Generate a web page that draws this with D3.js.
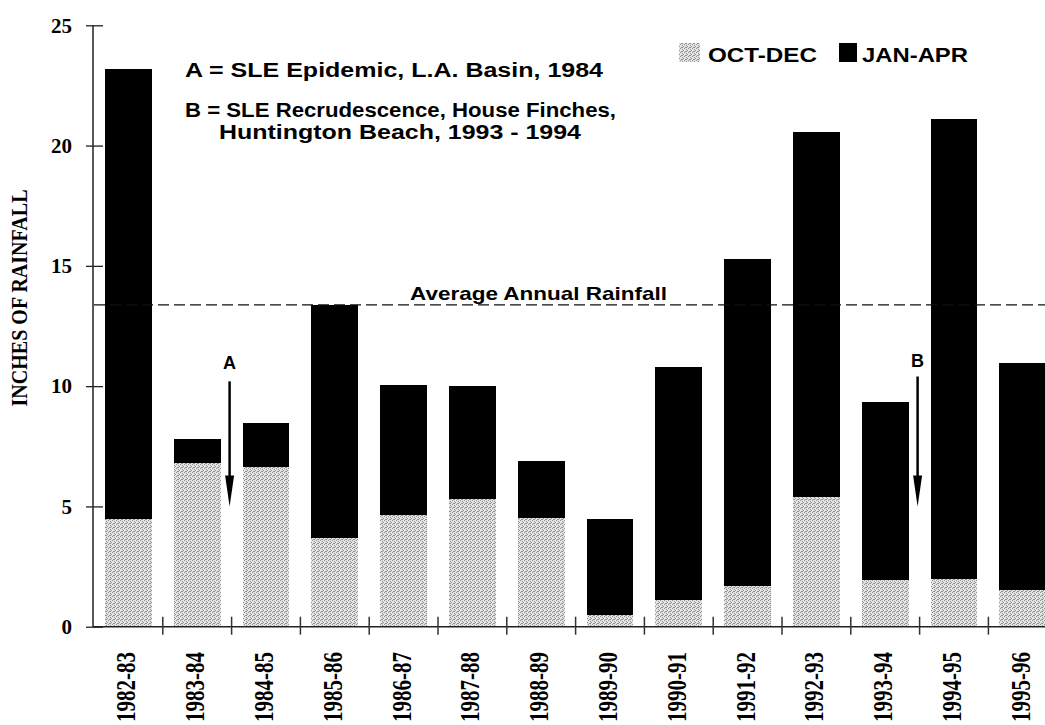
<!DOCTYPE html>
<html>
<head>
<meta charset="utf-8">
<script src="https://cdn.jsdelivr.net/npm/d3@7"></script>
<style>
  body { margin: 0; background: #fff; }
  svg { display: block; }
</style>
</head>
<body>
<div id="chart"></div>
<script>
// values (inches)
const seasons = ['1982-83', '1983-84', '1984-85', '1985-86', '1986-87', '1987-88', '1988-89',
    '1989-90', '1990-91', '1991-92', '1992-93', '1993-94', '1994-95', '1995-96'];
const octDec = [4.47, 6.82, 6.65, 3.68, 4.64, 5.31, 4.51, 0.49, 1.11, 1.69, 5.38, 1.94, 1.98, 1.53];
const janApr = [18.72, 0.97, 1.83, 9.70, 5.41, 4.71, 2.38, 3.98, 9.70, 13.59, 15.20, 7.40, 19.12, 9.43];
const averageRainfall = 13.38;
const yTicks = [0, 5, 10, 15, 20, 25];
const seriesNames = ['OCT-DEC', 'JAN-APR'];
// arrows: placed at the boundary just after the given season
const markers = [
    { label: 'A', after: '1983-84', labelAt: 10.7, top: 10.2, tip: 5 },
    { label: 'B', after: '1993-94', labelAt: 10.8, top: 10.4, tip: 5 }
];
const notes = [
    { text: 'A = SLE Epidemic, L.A. Basin, 1984', x: 185, y: 77, w: 418 },
    { text: 'B = SLE Recrudescence, House Finches,', x: 185, y: 117, w: 431 },
    { text: 'Huntington Beach, 1993 - 1994', x: 219, y: 139, w: 362 }
];

const width = 1045;
const height = 725;
const serif = '"Liberation Serif", "Times New Roman", serif';
const sans = '"Liberation Sans", Arial, Helvetica, sans-serif';

const svg = d3.select('#chart')
    .append('svg')
    .attr('width', width)
    .attr('height', height)
    .attr('viewBox', [0, 0, width, height]);

// stipple fill for the OCT-DEC part
const defs = svg.append('defs');
const pat = defs.append('pattern')
    .attr('id', 'stipple')
    .attr('patternUnits', 'userSpaceOnUse')
    .attr('width', 4)
    .attr('height', 4);
pat.append('rect').attr('width', 4).attr('height', 4).attr('fill', '#e4e4e4');
[[0, 0], [2, 1], [1, 3], [3, 2], [2, 3]].forEach(([px, py]) => {
    pat.append('rect')
        .attr('x', px).attr('y', py)
        .attr('width', 1).attr('height', 1)
        .attr('fill', '#909090');
});

const x = d3.scaleBand()
    .domain(seasons)
    .range([94, 94 + 68.8 * seasons.length])
    .paddingInner(0.32)
    .paddingOuter(0.16);

const y = d3.scaleLinear()
    .domain([0, 25])
    .range([626.7, 25.3]);

const boundary = s => x(s) - x.step() * x.paddingInner() / 2;

const table = seasons.map((s, i) => ({ season: s, 'OCT-DEC': octDec[i], 'JAN-APR': janApr[i] }));
const stacked = d3.stack().keys(seriesNames)(table);
const fills = { 'OCT-DEC': 'url(#stipple)', 'JAN-APR': '#000' };

svg.append('g')
    .selectAll('g')
    .data(stacked)
    .join('g')
        .attr('fill', d => fills[d.key])
    .selectAll('rect')
    .data(d => d)
    .join('rect')
        .attr('x', d => x(d.data.season))
        .attr('y', d => y(d[1]))
        .attr('width', x.bandwidth())
        .attr('height', d => y(d[0]) - y(d[1]))
        .attr('shape-rendering', 'crispEdges');

// average line
svg.append('line')
    .attr('x1', x.range()[0])
    .attr('x2', width)
    .attr('y1', y(averageRainfall))
    .attr('y2', y(averageRainfall))
    .attr('stroke', '#111')
    .attr('stroke-width', 1.3)
    .attr('stroke-dasharray', '11,5');

svg.append('text')
    .text('Average Annual Rainfall')
    .attr('x', 410)
    .attr('y', y(averageRainfall) - 5)
    .attr('textLength', 257)
    .attr('lengthAdjust', 'spacingAndGlyphs')
    .style('font-family', sans)
    .style('font-weight', 700)
    .style('font-size', '19px');

// y axis
const yAxis = svg.append('g')
    .attr('transform', `translate(${x.range()[0] - 1},0)`)
    .call(d3.axisLeft(y).tickValues(yTicks).tickSize(7).tickPadding(14));
yAxis.select('.domain').attr('stroke', '#222').attr('stroke-width', 1.5)
    .attr('d', `M0,${y(25)}V${y(0)}`);
yAxis.selectAll('.tick line').attr('x1', 10).attr('stroke', '#222').attr('stroke-width', 1.3);
yAxis.selectAll('.tick text')
    .style('font-family', serif)
    .style('font-weight', 700)
    .style('font-size', '21px')
    .attr('fill', '#000');

svg.append('text')
    .text('INCHES OF RAINFALL')
    .attr('transform', `translate(27, ${298}) scale(1.15,1) rotate(-90)`)
    .attr('text-anchor', 'middle')
    .attr('textLength', 217)
    .attr('lengthAdjust', 'spacingAndGlyphs')
    .style('font-family', serif)
    .style('font-weight', 700)
    .style('font-size', '20px');

// x axis: baseline plus ticks at the season boundaries
svg.append('line')
    .attr('x1', x.range()[0] - 1)
    .attr('x2', width)
    .attr('y1', y(0))
    .attr('y2', y(0))
    .attr('stroke', '#222')
    .attr('stroke-width', 1.5);

svg.append('g')
    .selectAll('line')
    .data(seasons.slice(1))
    .join('line')
        .attr('x1', d => boundary(d))
        .attr('x2', d => boundary(d))
        .attr('y1', y(0) - 10)
        .attr('y2', y(0) + 8)
        .attr('stroke', '#333')
        .attr('stroke-width', 1.5);

svg.append('g')
    .selectAll('text')
    .data(seasons)
    .join('text')
        .text(d => d)
        .attr('transform', d => `translate(${x(d) + x.bandwidth() / 2 + 7}, 652) scale(1.25,1) rotate(-90)`)
        .attr('text-anchor', 'end')
        .style('font-family', serif)
        .style('font-weight', 700)
        .style('font-size', '21px');

// arrows A and B
const arrows = svg.append('g')
    .selectAll('g')
    .data(markers)
    .join('g')
        .attr('transform', d => `translate(${boundary(seasons[seasons.indexOf(d.after) + 1]) - 2},0)`);

arrows.append('text')
    .text(d => d.label)
    .attr('y', d => y(d.labelAt))
    .attr('text-anchor', 'middle')
    .style('font-family', sans)
    .style('font-weight', 700)
    .style('font-size', '18px');

arrows.append('line')
    .attr('y1', d => y(d.top))
    .attr('y2', d => y(d.tip) - 20)
    .attr('stroke', '#000')
    .attr('stroke-width', 2.5);

arrows.append('path')
    .attr('d', d => `M-4.5,${y(d.tip) - 31}L4.5,${y(d.tip) - 31}L0,${y(d.tip)}Z`)
    .attr('fill', '#000');

// annotation text
svg.append('g')
    .selectAll('text')
    .data(notes)
    .join('text')
        .text(d => d.text)
        .attr('x', d => d.x)
        .attr('y', d => d.y)
        .attr('textLength', d => d.w)
        .attr('lengthAdjust', 'spacingAndGlyphs')
        .style('font-family', sans)
        .style('font-weight', 700)
        .style('font-size', '20px');

// legend
const legend = svg.append('g')
    .selectAll('g')
    .data([
        { key: 'OCT-DEC', x: 679, tx: 708, w: 109 },
        { key: 'JAN-APR', x: 839, tx: 862, w: 106 }
    ])
    .join('g');

legend.append('rect')
    .attr('x', d => d.x)
    .attr('y', 43)
    .attr('width', d => d.key === 'OCT-DEC' ? 21 : 18)
    .attr('height', 19)
    .attr('fill', d => fills[d.key]);

legend.append('text')
    .text(d => d.key)
    .attr('x', d => d.tx)
    .attr('y', 62)
    .attr('textLength', d => d.w)
    .attr('lengthAdjust', 'spacingAndGlyphs')
    .style('font-family', sans)
    .style('font-weight', 700)
    .style('font-size', '20px');
</script>
</body>
</html>
